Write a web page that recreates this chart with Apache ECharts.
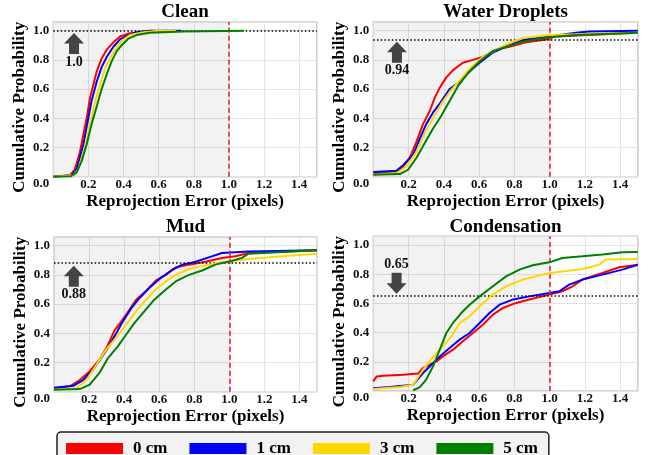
<!DOCTYPE html>
<html>
<head>
<meta charset="utf-8">
<script src="https://cdn.jsdelivr.net/npm/echarts@6/dist/echarts.min.js"></script>
<style>html,body{margin:0;padding:0;background:#fff;}#c{width:648px;height:455px;}</style>
</head>
<body>
<div id="c"></div>
<script>
// ---------- data ----------
const seriesNames = ['0 cm', '1 cm', '3 cm', '5 cm'];
const seriesColors = ['#ff0000', '#0000ff', '#ffd700', '#008000'];
const panelTitles = ['Clean', 'Water Droplets', 'Mud', 'Condensation'];
const thresholds = [1.0, 0.94, 0.88, 0.65];
const thresholdLabels = ['1.0', '0.94', '0.88', '0.65'];
const arrowX = [0.118, 0.134, 0.113, 0.132];
const arrowY = [0.912, 0.852, 0.791, 0.737];
const arrowUp = [true, true, true, false];
const errorLimit = 1.0;

const clean0 = [[0,0],[0.095,0.01],[0.123,0.05],[0.152,0.17],[0.171,0.29],[0.19,0.40],[0.209,0.54],[0.228,0.63],[0.247,0.72],[0.275,0.81],[0.304,0.87],[0.342,0.92],[0.38,0.96],[0.427,0.98],[0.493,0.99],[0.65,1.0]];
const clean1 = [[0,0],[0.104,0.01],[0.133,0.05],[0.171,0.22],[0.199,0.40],[0.218,0.52],[0.247,0.65],[0.275,0.75],[0.304,0.82],[0.342,0.89],[0.38,0.94],[0.427,0.97],[0.474,0.99],[0.55,1.0],[0.73,1.0]];
const clean3 = [[0,0],[0.114,0.01],[0.142,0.05],[0.18,0.20],[0.209,0.36],[0.237,0.51],[0.266,0.63],[0.294,0.74],[0.323,0.81],[0.351,0.87],[0.389,0.93],[0.436,0.97],[0.512,0.99],[0.6,1.0],[0.70,1.0]];
const clean5 = [[0,0],[0.10,0.003],[0.133,0.03],[0.161,0.105],[0.19,0.22],[0.218,0.36],[0.247,0.48],[0.275,0.60],[0.304,0.70],[0.332,0.79],[0.361,0.86],[0.389,0.90],[0.427,0.945],[0.474,0.97],[0.55,0.985],[0.74,0.995],[1.085,1.0]];

const water0 = [[0,0.023],[0.132,0.032],[0.17,0.07],[0.207,0.13],[0.245,0.24],[0.282,0.36],[0.32,0.45],[0.348,0.54],[0.377,0.61],[0.414,0.68],[0.452,0.73],[0.508,0.78],[0.565,0.80],[0.62,0.82],[0.697,0.87],[0.772,0.89],[0.866,0.92],[0.98,0.94],[1.035,0.96],[1.5,0.985]];
const water1 = [[0,0.032],[0.132,0.04],[0.17,0.08],[0.226,0.15],[0.264,0.26],[0.30,0.36],[0.339,0.44],[0.377,0.50],[0.433,0.60],[0.49,0.65],[0.546,0.72],[0.603,0.78],[0.678,0.85],[0.734,0.88],[0.79,0.91],[0.866,0.94],[0.998,0.96],[1.149,0.985],[1.224,0.995],[1.5,1.0]];
const water3 = [[0,0.014],[0.132,0.025],[0.188,0.07],[0.245,0.17],[0.292,0.30],[0.339,0.40],[0.386,0.50],[0.433,0.58],[0.49,0.66],[0.546,0.74],[0.62,0.82],[0.697,0.87],[0.772,0.915],[0.847,0.95],[0.998,0.97],[1.5,0.985]];
const water5 = [[0,0.014],[0.15,0.018],[0.198,0.048],[0.245,0.13],[0.292,0.23],[0.339,0.33],[0.377,0.40],[0.424,0.50],[0.48,0.62],[0.537,0.71],[0.603,0.79],[0.678,0.86],[0.753,0.89],[0.847,0.925],[0.998,0.955],[1.149,0.97],[1.5,0.985]];

const mud0 = [[0,0.023],[0.09,0.037],[0.147,0.08],[0.204,0.14],[0.26,0.22],[0.308,0.32],[0.345,0.42],[0.383,0.48],[0.43,0.56],[0.468,0.63],[0.525,0.69],[0.58,0.76],[0.638,0.80],[0.694,0.85],[0.77,0.87],[0.864,0.89],[0.958,0.915],[1.034,0.927],[1.11,0.95],[1.5,0.968]];
const mud1 = [[0,0.027],[0.11,0.04],[0.166,0.08],[0.223,0.15],[0.28,0.25],[0.317,0.32],[0.355,0.40],[0.392,0.48],[0.44,0.57],[0.487,0.64],[0.543,0.71],[0.61,0.78],[0.675,0.835],[0.732,0.87],[0.808,0.89],[0.883,0.92],[0.958,0.95],[1.109,0.96],[1.5,0.968]];
const mud3 = [[0,0.014],[0.128,0.023],[0.185,0.08],[0.242,0.185],[0.298,0.29],[0.355,0.37],[0.411,0.46],[0.468,0.55],[0.525,0.63],[0.58,0.70],[0.638,0.755],[0.694,0.80],[0.77,0.84],[0.845,0.86],[0.958,0.886],[1.11,0.909],[1.298,0.927],[1.5,0.945]];
const mud5 = [[0,0.014],[0.147,0.018],[0.204,0.048],[0.26,0.13],[0.308,0.23],[0.364,0.31],[0.411,0.39],[0.458,0.47],[0.515,0.55],[0.572,0.63],[0.638,0.70],[0.694,0.755],[0.77,0.80],[0.845,0.83],[0.92,0.87],[1.006,0.893],[1.07,0.915],[1.11,0.945],[1.5,0.968]];

const cond0 = [[0,0.066],[0.019,0.10],[0.056,0.105],[0.17,0.112],[0.254,0.119],[0.282,0.158],[0.32,0.18],[0.358,0.203],[0.395,0.237],[0.452,0.283],[0.508,0.34],[0.565,0.397],[0.621,0.454],[0.678,0.523],[0.734,0.568],[0.81,0.603],[0.885,0.626],[0.998,0.66],[1.073,0.683],[1.13,0.717],[1.186,0.763],[1.3,0.808],[1.394,0.847],[1.5,0.865]];
const cond1 = [[0,0.018],[0.094,0.027],[0.226,0.043],[0.282,0.123],[0.33,0.18],[0.377,0.237],[0.433,0.295],[0.49,0.352],[0.546,0.397],[0.603,0.466],[0.659,0.534],[0.716,0.591],[0.791,0.626],[0.885,0.648],[0.998,0.671],[1.055,0.683],[1.111,0.728],[1.186,0.763],[1.3,0.797],[1.412,0.831],[1.5,0.865]];
const cond3 = [[0,0.014],[0.15,0.027],[0.226,0.043],[0.282,0.146],[0.32,0.203],[0.358,0.26],[0.395,0.306],[0.442,0.374],[0.49,0.466],[0.546,0.511],[0.603,0.58],[0.678,0.66],[0.753,0.717],[0.847,0.763],[0.96,0.797],[1.036,0.813],[1.186,0.836],[1.28,0.865],[1.318,0.90],[1.5,0.904]];
const cond5 = [[0.226,0.005],[0.264,0.027],[0.30,0.078],[0.339,0.169],[0.377,0.283],[0.414,0.397],[0.452,0.466],[0.499,0.534],[0.546,0.591],[0.603,0.648],[0.678,0.717],[0.753,0.785],[0.829,0.831],[0.904,0.861],[0.998,0.881],[1.073,0.911],[1.186,0.922],[1.3,0.934],[1.412,0.95],[1.5,0.952]];

const panelData = [
  [clean0, clean1, clean3, clean5],
  [water0, water1, water3, water5],
  [mud0, mud1, mud3, mud5],
  [cond0, cond1, cond3, cond5]
];

// ---------- layout / style ----------
const FONT = "'Liberation Serif', 'Times New Roman', serif";
const X_MAX = 1.5, Y_MAX = 1.06;
const grids = [
  {left: 53.3, top: 21.9, width: 263.5, height: 154.8},
  {left: 373.3, top: 21.9, width: 264.5, height: 154.8},
  {left: 54, top: 236.9, width: 263, height: 154.8},
  {left: 373.3, top: 236.2, width: 264.5, height: 154.8}
];
const isTick = v => Math.abs(v * 5 - Math.round(v * 5)) < 1e-6;
const UP = 'path://M10,0 L20,10.5 L15,10.5 L15,21 L5,21 L5,10.5 L0,10.5 Z';
const DOWN = 'path://M5,0 L15,0 L15,10.5 L20,10.5 L10,21 L0,10.5 L5,10.5 Z';

const option = {
  animation: false,
  backgroundColor: '#fff',
  title: grids.map((g, i) => ({
    text: panelTitles[i],
    left: g.left + g.width / 2,
    top: g.top - 19,
    textAlign: 'center',
    padding: 0,
    textStyle: {fontFamily: FONT, fontWeight: 'bold', fontSize: 19, color: '#000'}
  })),
  legend: {
    data: seriesNames,
    left: 57, top: 432,
    icon: 'rect',
    itemWidth: 57, itemHeight: 11, itemGap: 22,
    padding: [8, 11, 20, 9],
    backgroundColor: '#f2f2f2',
    borderColor: '#222', borderWidth: 1.5, borderRadius: 4,
    textStyle: {fontFamily: FONT, fontWeight: 'bold', fontSize: 17, color: '#000', padding: [0, 0, 0, 5]}
  },
  grid: grids.map(g => Object.assign({show: true, borderColor: '#cccccc', borderWidth: 1.5, backgroundColor: '#fff'}, g)),
  xAxis: grids.map((g, i) => ({
    type: 'value', gridIndex: i, min: 0, max: X_MAX, interval: 0.2,
    name: 'Reprojection Error (pixels)', nameLocation: 'middle', nameGap: 16,
    nameTextStyle: {fontFamily: FONT, fontWeight: 'bold', fontSize: 17, color: '#000'},
    axisLine: {show: false}, axisTick: {show: false},
    splitLine: {show: true, lineStyle: {color: '#e3e3e3', width: 1}},
    axisLabel: {
      margin: 1, fontFamily: FONT, fontWeight: 'bold', fontSize: 13, color: '#111',
      showMaxLabel: false,
      formatter: v => (v === 0 || !isTick(v)) ? '' : v.toFixed(1)
    }
  })),
  yAxis: grids.map((g, i) => ({
    type: 'value', gridIndex: i, min: 0, max: Y_MAX, interval: 0.2,
    name: 'Cumulative Probability', nameLocation: 'middle', nameGap: 25,
    nameTextStyle: {fontFamily: FONT, fontWeight: 'bold', fontSize: 17, color: '#000', padding: [0, 16, 0, 0]},
    axisLine: {show: false}, axisTick: {show: false},
    splitLine: {show: true, lineStyle: {color: '#e3e3e3', width: 1}},
    axisLabel: {
      margin: 4, fontFamily: FONT, fontWeight: 'bold', fontSize: 13, color: '#111',
      showMaxLabel: false,
      formatter: v => !isTick(v) ? '' : (v === 0 ? '{z|0.0}' : v.toFixed(1)),
      rich: {z: {fontFamily: FONT, fontWeight: 'bold', fontSize: 13, color: '#111', padding: [13, 0, 0, 0]}}
    }
  })),
  series: []
};

panelData.forEach((curves, p) => {
  curves.forEach((pts, s) => {
    option.series.push({
      type: 'line', name: seriesNames[s], xAxisIndex: p, yAxisIndex: p,
      data: pts, showSymbol: false, symbol: 'none', clip: true,
      lineStyle: {color: seriesColors[s], width: 2},
      itemStyle: {color: seriesColors[s]},
      z: 3 + s
    });
  });
  option.series.push({
    type: 'line', xAxisIndex: p, yAxisIndex: p, data: [], z: 10,
    markArea: {
      silent: true,
      itemStyle: {color: 'rgba(0,0,0,0.05)'},
      data: [[{xAxis: 0}, {xAxis: errorLimit}]]
    },
    markLine: {
      silent: true, symbol: 'none', label: {show: false},
      data: [
        {xAxis: errorLimit, lineStyle: {color: '#e3262d', type: [5, 3], width: 1.6}},
        {yAxis: thresholds[p], lineStyle: {color: '#000', type: [1.5, 2.2], width: 1.5}}
      ]
    },
    markPoint: {
      silent: true,
      data: [{
        coord: [arrowX[p], arrowY[p]],
        symbol: arrowUp[p] ? UP : DOWN,
        symbolSize: [20, 21],
        itemStyle: {color: '#444'},
        label: {
          show: true, formatter: thresholdLabels[p],
          position: arrowUp[p] ? 'bottom' : 'top', distance: 1,
          fontFamily: FONT, fontWeight: 'bold', fontSize: 14, color: '#111'
        }
      }]
    }
  });
});

const chart = echarts.init(document.getElementById('c'), null, {renderer: 'canvas'});
chart.setOption(option);
</script>
</body>
</html>
